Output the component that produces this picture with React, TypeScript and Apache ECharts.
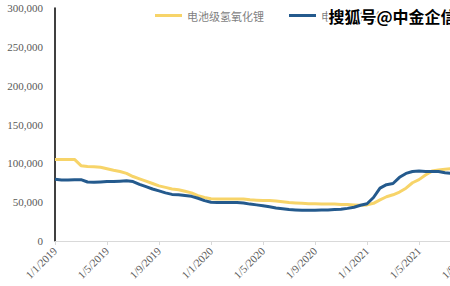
import React, { useEffect, useRef } from "react";
import * as echarts from "echarts";

// Half-monthly observation dates, from 1/1/2019 to 1/9/2021 (d/m/yyyy)
const dates: string[] = [];
for (let y = 2019; y <= 2021; y++) {
  for (let m = 1; m <= 12; m++) {
    if (y === 2021 && m > 9) break;
    dates.push(`1/${m}/${y}`);
    if (!(y === 2021 && m === 9)) dates.push(`16/${m}/${y}`);
  }
}

const tickLabels = [
  "1/1/2019", "1/5/2019", "1/9/2019", "1/1/2020", "1/5/2020",
  "1/9/2020", "1/1/2021", "1/5/2021", "1/9/2021",
];

const lithiumHydroxide = [
  105000, 105000, 105000, 105000, 97000, 96000, 95500, 95000, 93000, 91000,
  89500, 87000, 83000, 80000, 77000, 74000, 71000, 69000, 67000, 66000,
  64000, 62000, 58500, 56000, 54500, 54000, 54000, 54000, 54000, 54000,
  53000, 52500, 52000, 52000, 51500, 50500, 49500, 49000, 48500, 48000,
  48000, 47500, 47500, 47500, 47000, 47000, 46500, 46000, 46500, 48500,
  53000, 57000, 59500, 63000, 68000, 75000, 79000, 85000, 90000, 91500,
  92500, 93000, 93500, 94000, 94000,
];

const lithiumCarbonate = [
  79500, 78500, 78500, 79000, 79000, 76000, 75500, 76000, 76500, 76500,
  77000, 77500, 76500, 73000, 70000, 67000, 64500, 62000, 60000, 59500,
  58500, 57500, 55000, 52000, 50000, 49500, 49500, 49500, 49500, 49000,
  47500, 46500, 45500, 44000, 42500, 41500, 40500, 40000, 39500, 39500,
  39500, 40000, 40000, 40500, 41000, 42000, 43500, 46000, 48000, 56000,
  68000, 72500, 74000, 82000, 87000, 89500, 90000, 89500, 89500, 89500,
  88000, 87000, 87000, 87000, 87000,
];

const seriesNames = ["电池级氢氧化锂", "电池级碳酸锂"];
const watermark = "搜狐号@中金企信";

export default function App() {
  const ref = useRef<HTMLDivElement>(null);
  useEffect(() => {
    document.body.style.margin = "0";
    const chart = echarts.init(ref.current!, null, { renderer: "svg" });
    const serif = "'Liberation Serif', 'Times New Roman', serif";
    const showTick = (_i: number, v: string) => tickLabels.includes(v);
    chart.setOption({
      animation: false,
      backgroundColor: "#ffffff",
      grid: { left: 55, top: 8, bottom: 45, right: 19, containLabel: false },
      legend: {
        left: 155,
        top: 10,
        padding: 0,
        icon: "rect",
        itemWidth: 27,
        itemHeight: 3,
        itemGap: 25,
        textStyle: {
          color: "#7f7f7f",
          fontSize: 11,
          fontFamily: "'Noto Sans CJK SC', sans-serif",
        },
        data: seriesNames,
      },
      xAxis: {
        type: "category",
        data: dates,
        boundaryGap: false,
        axisLine: { lineStyle: { color: "#d9d9d9", width: 1 } },
        axisTick: {
          show: true,
          interval: showTick,
          lineStyle: { color: "#d9d9d9" },
          length: 4,
        },
        axisLabel: {
          interval: showTick,
          rotate: 45,
          color: "#595959",
          fontSize: 11,
          fontFamily: serif,
          margin: 8,
        },
        splitLine: { show: false },
      },
      yAxis: {
        type: "value",
        min: 0,
        max: 300000,
        interval: 50000,
        axisLine: { show: true, lineStyle: { color: "#000000", width: 1.5 } },
        axisTick: { show: false },
        splitLine: { show: false },
        axisLabel: {
          color: "#595959",
          fontSize: 11,
          fontFamily: serif,
          margin: 12,
          formatter: (v: number) => v.toLocaleString("en-US"),
        },
      },
      series: [
        {
          name: seriesNames[0],
          type: "line",
          data: lithiumHydroxide,
          showSymbol: false,
          lineStyle: { color: "#F7D469", width: 3 },
          itemStyle: { color: "#F7D469" },
        },
        {
          name: seriesNames[1],
          type: "line",
          data: lithiumCarbonate,
          showSymbol: false,
          lineStyle: { color: "#245A8D", width: 3 },
          itemStyle: { color: "#245A8D" },
        },
      ],
      graphic: [
        {
          type: "text",
          left: 327,
          top: 6,
          z: 100,
          style: {
            text: watermark,
            fill: "#000000",
            stroke: "#ffffff",
            lineWidth: 3,
            font: "bold 16px 'Noto Sans CJK SC', sans-serif",
          },
        },
      ],
    });
    return () => chart.dispose();
  }, []);
  return (
    <div style={{ width: 450, height: 286, overflow: "hidden" }}>
      <div ref={ref} style={{ width: 490, height: 286 }} />
    </div>
  );
}
